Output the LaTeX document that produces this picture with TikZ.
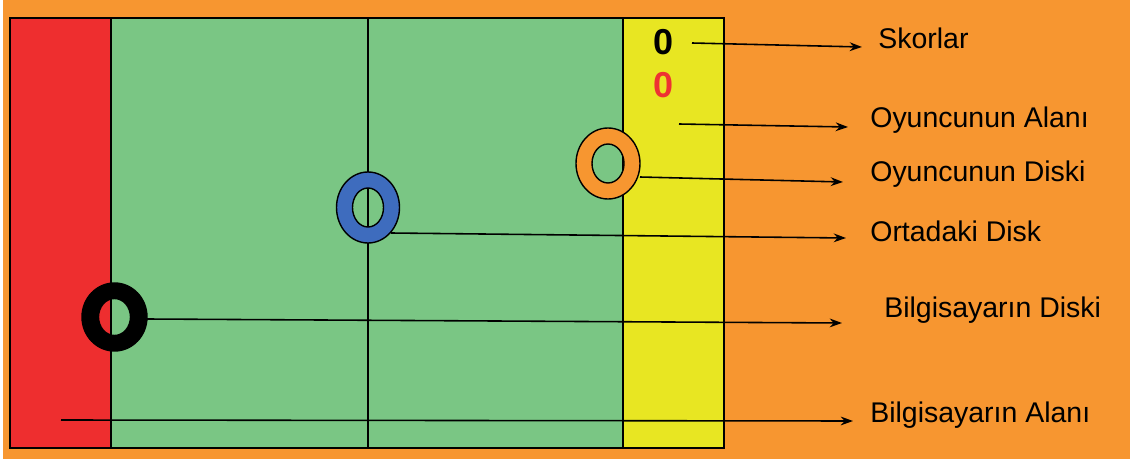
\documentclass[tikz,border=0pt]{standalone}
\usepackage{fontspec}
\setmainfont{Liberation Sans}
\usetikzlibrary{arrows.meta}

\begin{document}
\begin{tikzpicture}[x=0.02cm, y=-0.02cm, >=Stealth]
  % ==========================================
  % 1. COLOURS & STYLES
  % ==========================================
  \definecolor{bgOrange}{RGB}{247, 150, 48}   % Background and player disk
  \definecolor{pcRed}{RGB}{238, 46, 47}       % Computer area
  \definecolor{fieldGreen}{RGB}{122, 198, 132}% Middle field
  \definecolor{playerYellow}{RGB}{232, 230, 34}% Player area
  \definecolor{diskBlue}{RGB}{62, 108, 190}   % Middle disk
  \definecolor{scoreRed}{RGB}{238, 50, 50}    % Second score

  \tikzset{
    fieldline/.style={black, line width=1pt},
    pointer/.style={black, line width=0.9pt, -{Stealth[length=7pt, width=5pt]}},
    lbl/.style={inner sep=0pt, anchor=base west, font=\fontsize{16.2}{19}\selectfont},
    scoredigit/.style={inner sep=0pt, font=\fontsize{20.5}{24}\selectfont\bfseries},
    ringedge/.style={black, line width=0.8pt}
  }

  \useasboundingbox (0,0) rectangle (1130,459);
  \fill[bgOrange] (0,0) rectangle (1130,459);
  \fill[white] (0,0) rectangle (3,459);

  % ==========================================
  % 2. FIELD
  % ==========================================
  \fill[pcRed] (10,18) rectangle (111,448);
  \fill[fieldGreen] (111,18) rectangle (623,448);
  \fill[playerYellow] (623,18) rectangle (724,448);
  \draw[fieldline] (10,18) rectangle (724,448);
  \foreach \xx in {111, 368, 623}
    \draw[fieldline] (\xx,18) -- (\xx,448);

  % ==========================================
  % 3. DISKS (rings with a see-through hole)
  % ==========================================
  \foreach \col/\cx/\cy/\rx/\ry/\ix/\iy in {
      diskBlue/368/207.5/31.5/35.5/15.5/19.5,
      bgOrange/608/163.5/32/35.5/16/19.5,
      black/114.5/317/32.5/34/16/18.5} {
    \fill[\col, even odd rule]
      (\cx,\cy) ellipse [x radius=\rx, y radius=\ry]
      (\cx,\cy) ellipse [x radius=\ix, y radius=\iy];
    \draw[ringedge] (\cx,\cy) ellipse [x radius=\rx, y radius=\ry];
    \draw[ringedge] (\cx,\cy) ellipse [x radius=\ix, y radius=\iy];
  }

  % ==========================================
  % 4. SCORES
  % ==========================================
  \node[scoredigit] (scoreBlack) at (663.5,42) {0};
  \node[scoredigit, text=scoreRed] (scoreRedDigit) at (663.5,85.5) {0};

  % ==========================================
  % 5. LABELS & POINTERS
  % ==========================================
  \node[lbl] (skorlar)      at (878,49)  {Skorlar};
  \node[lbl] (oyuncuAlan)   at (870,128) {Oyuncunun Alanı};
  \node[lbl] (oyuncuDisk)   at (870,182) {Oyuncunun Diski};
  \node[lbl] (ortaDisk)     at (870,242) {Ortadaki Disk};
  \node[lbl] (bilgDisk)     at (884,318) {Bilgisayarın Diski};
  \node[lbl] (bilgAlan)     at (870,422) {Bilgisayarın Alanı};

  % start points on the field
  \coordinate (fromScore)      at (692,43);
  \coordinate (fromPlayerArea) at (679,124);
  \coordinate (fromPlayerDisk) at (640,177);
  \coordinate (fromMidDisk)    at (391,233);
  \coordinate (fromPcDisk)     at (147,319);
  \coordinate (fromPcArea)     at (61,420);

  % arrow tips just before the labels
  \coordinate (toScore)      at (862,47);
  \coordinate (toPlayerArea) at (848,127);
  \coordinate (toPlayerDisk) at (843,182);
  \coordinate (toMidDisk)    at (846,238);
  \coordinate (toPcDisk)     at (842,323);
  \coordinate (toPcArea)     at (853,421);

  \draw[pointer] (fromScore) -- (toScore);
  \draw[pointer] (fromPlayerArea) -- (toPlayerArea);
  \draw[pointer] (fromPlayerDisk) -- (toPlayerDisk);
  \draw[pointer] (fromMidDisk) -- (toMidDisk);
  \draw[pointer] (fromPcDisk) -- (toPcDisk);
  \draw[pointer] (fromPcArea) -- (toPcArea);

\end{tikzpicture}
\end{document}
